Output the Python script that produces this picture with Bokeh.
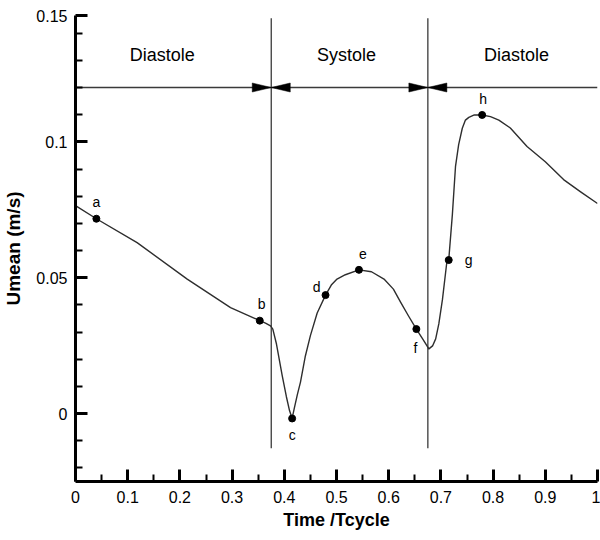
import numpy as np
from bokeh.plotting import figure
from bokeh.models import FixedTicker, CustomJSTickFormatter, ColumnDataSource
from bokeh.core.properties import value
from bokeh.embed import file_html
from bokeh.resources import INLINE

# ---------------- data ----------------
time = [0.0, 0.040, 0.118, 0.214, 0.297, 0.353, 0.364, 0.3736, 0.378, 0.385,
        0.396, 0.404, 0.410, 0.415, 0.419, 0.425, 0.431, 0.440, 0.450, 0.463,
        0.479, 0.490, 0.501, 0.517, 0.543, 0.567, 0.591, 0.609, 0.623, 0.638,
        0.653, 0.665, 0.677, 0.684, 0.690, 0.696, 0.703, 0.712, 0.715, 0.722,
        0.728, 0.734, 0.741, 0.747, 0.7535, 0.764, 0.779, 0.795, 0.811, 0.833,
        0.865, 0.900, 0.935, 0.967, 1.0]
umean = [0.0765, 0.0717, 0.0629, 0.0495, 0.0390, 0.0342, 0.0333, 0.0323, 0.0311, 0.0256,
         0.0140, 0.0062, 0.0011, -0.0018, 0.0018, 0.0070, 0.0116, 0.0209, 0.0287, 0.0370,
         0.0436, 0.0473, 0.0495, 0.0511, 0.0529, 0.0522, 0.0495, 0.0458, 0.0409, 0.0359,
         0.0311, 0.0275, 0.0238, 0.0249, 0.0275, 0.0330, 0.0420, 0.0568, 0.0565, 0.0733,
         0.0910, 0.0990, 0.1050, 0.1080, 0.1090, 0.1099, 0.1099, 0.1093, 0.1080, 0.1051,
         0.0983, 0.0927, 0.0861, 0.0817, 0.0773]

pt_labels = ["a", "b", "c", "d", "e", "f", "g", "h"]
pt_time = [0.040, 0.353, 0.415, 0.479, 0.543, 0.653, 0.715, 0.779]
pt_umean = [0.0717, 0.0342, -0.0018, 0.0436, 0.0529, 0.0311, 0.0565, 0.1099]

phase_bounds = [0.375, 0.675]
phase_names = ["Diastole", "Systole", "Diastole"]
phase_label_x = [0.166, 0.519, 0.845]
phase_label_y = 0.132
arrow_y = 0.12
bound_line_bottom = -0.0128
bound_line_top = 0.1455

y_axis_bottom = -0.025
y_axis_top = 0.1465   # the axis ends just short of 0.15, where the top tick is labelled
x_ticks = [0, 0.1, 0.2, 0.3, 0.4, 0.5, 0.6, 0.7, 0.8, 0.9, 1.0]
x_minor = [0.05, 0.15, 0.25, 0.35, 0.45, 0.55, 0.65, 0.75, 0.85, 0.95]
y_ticks = [0, 0.05, 0.1, y_axis_top]
y_minor = [-0.02, -0.01, 0.01, 0.02, 0.03, 0.04, 0.06, 0.07, 0.08, 0.09,
           0.11, 0.12, 0.13, 0.14]

x_label = "Time /Tcycle"
y_label = "Umean (m/s)"

# ---------------- style ----------------
FONT = "Liberation Sans"
W, H = 600, 540
BL, BR, BT, BB = 75, 3, 15, 59
XR = (0, 1)
YR = (y_axis_bottom, y_axis_top)
label_dx = [0, 2, 0, -9, 4, -1, 20, 1]
label_dy = [-17, -17, 17, -8, -16, 19, 0, -16]

p = figure(width=W, height=H, x_range=XR, y_range=YR,
           output_backend="svg", toolbar_location=None,
           min_border_left=BL, min_border_right=BR,
           min_border_top=BT, min_border_bottom=BB)
p.outline_line_color = None
p.grid.visible = False
p.background_fill_color = "white"

xfmt = CustomJSTickFormatter(code="return String(Math.round(tick*10)/10);")
yfmt = CustomJSTickFormatter(code="return String(Math.round(tick*100)/100);")
for ax, ticks, minor, fmt in ((p.xaxis[0], x_ticks, x_minor, xfmt),
                              (p.yaxis[0], y_ticks, y_minor, yfmt)):
    ax.ticker = FixedTicker(ticks=ticks, minor_ticks=minor)
    ax.formatter = fmt
    ax.axis_line_width = 3
    ax.axis_line_color = "black"
    ax.major_tick_in = 12
    ax.major_tick_out = 0
    ax.minor_tick_in = 7
    ax.minor_tick_out = 0
    ax.major_tick_line_width = 3
    ax.minor_tick_line_width = 2
    ax.major_label_text_font = FONT
    ax.major_label_text_font_size = "16px"
    ax.major_label_text_color = "black"
    ax.axis_label_text_font = FONT
    ax.axis_label_text_font_style = "bold"
    ax.axis_label_text_color = "black"

p.xaxis.axis_label = x_label
p.xaxis.axis_label_text_font_size = "18px"
p.xaxis.major_label_standoff = 9
p.xaxis.axis_label_standoff = 4
p.yaxis.axis_label = y_label
p.yaxis.axis_label_text_font_size = "19px"
p.yaxis.major_label_standoff = 8
p.yaxis.axis_label_standoff = 9

# phase boundary lines
p.segment(x0=phase_bounds, x1=phase_bounds,
          y0=[bound_line_bottom] * len(phase_bounds), y1=[bound_line_top] * len(phase_bounds),
          line_color="#3a3a3a", line_width=1.3)
# horizontal arrow line
p.segment(x0=[XR[0]], x1=[XR[1]], y0=[arrow_y], y1=[arrow_y],
          line_color="#3a3a3a", line_width=1.3)

# arrow heads (triangles, sized in pixels converted to data units)
fw = W - BL - BR
fh = H - BT - BB
head_len = 19 / fw * (XR[1] - XR[0])
head_half = 4.5 / fh * (YR[1] - YR[0])
xs, ys = [], []
for b in phase_bounds:
    xs.append([b, b - head_len, b - head_len])
    ys.append([arrow_y, arrow_y + head_half, arrow_y - head_half])
    xs.append([b, b + head_len, b + head_len])
    ys.append([arrow_y, arrow_y + head_half, arrow_y - head_half])
p.patches(xs=xs, ys=ys, fill_color="black", line_color="black", line_width=0.5)

# curve
p.line(time, umean, line_color="#2e2e2e", line_width=1.4, line_join="round")

# marked points
p.scatter(pt_time, pt_umean, size=7, marker="circle", fill_color="black", line_color="black")
src = ColumnDataSource(dict(x=pt_time, y=pt_umean, t=pt_labels, dx=label_dx, dy=label_dy))
p.text(x="x", y="y", text="t", x_offset="dx", y_offset="dy", source=src,
       text_font=value(FONT), text_font_size="14px", text_color="black",
       text_align="center", text_baseline="middle")

# phase names
p.text(x=phase_label_x, y=[phase_label_y] * len(phase_names), text=phase_names,
       text_font=value(FONT), text_font_size="18px", text_color="black",
       text_align="center", text_baseline="middle")

open("out.html", "w").write(file_html(p, INLINE))
